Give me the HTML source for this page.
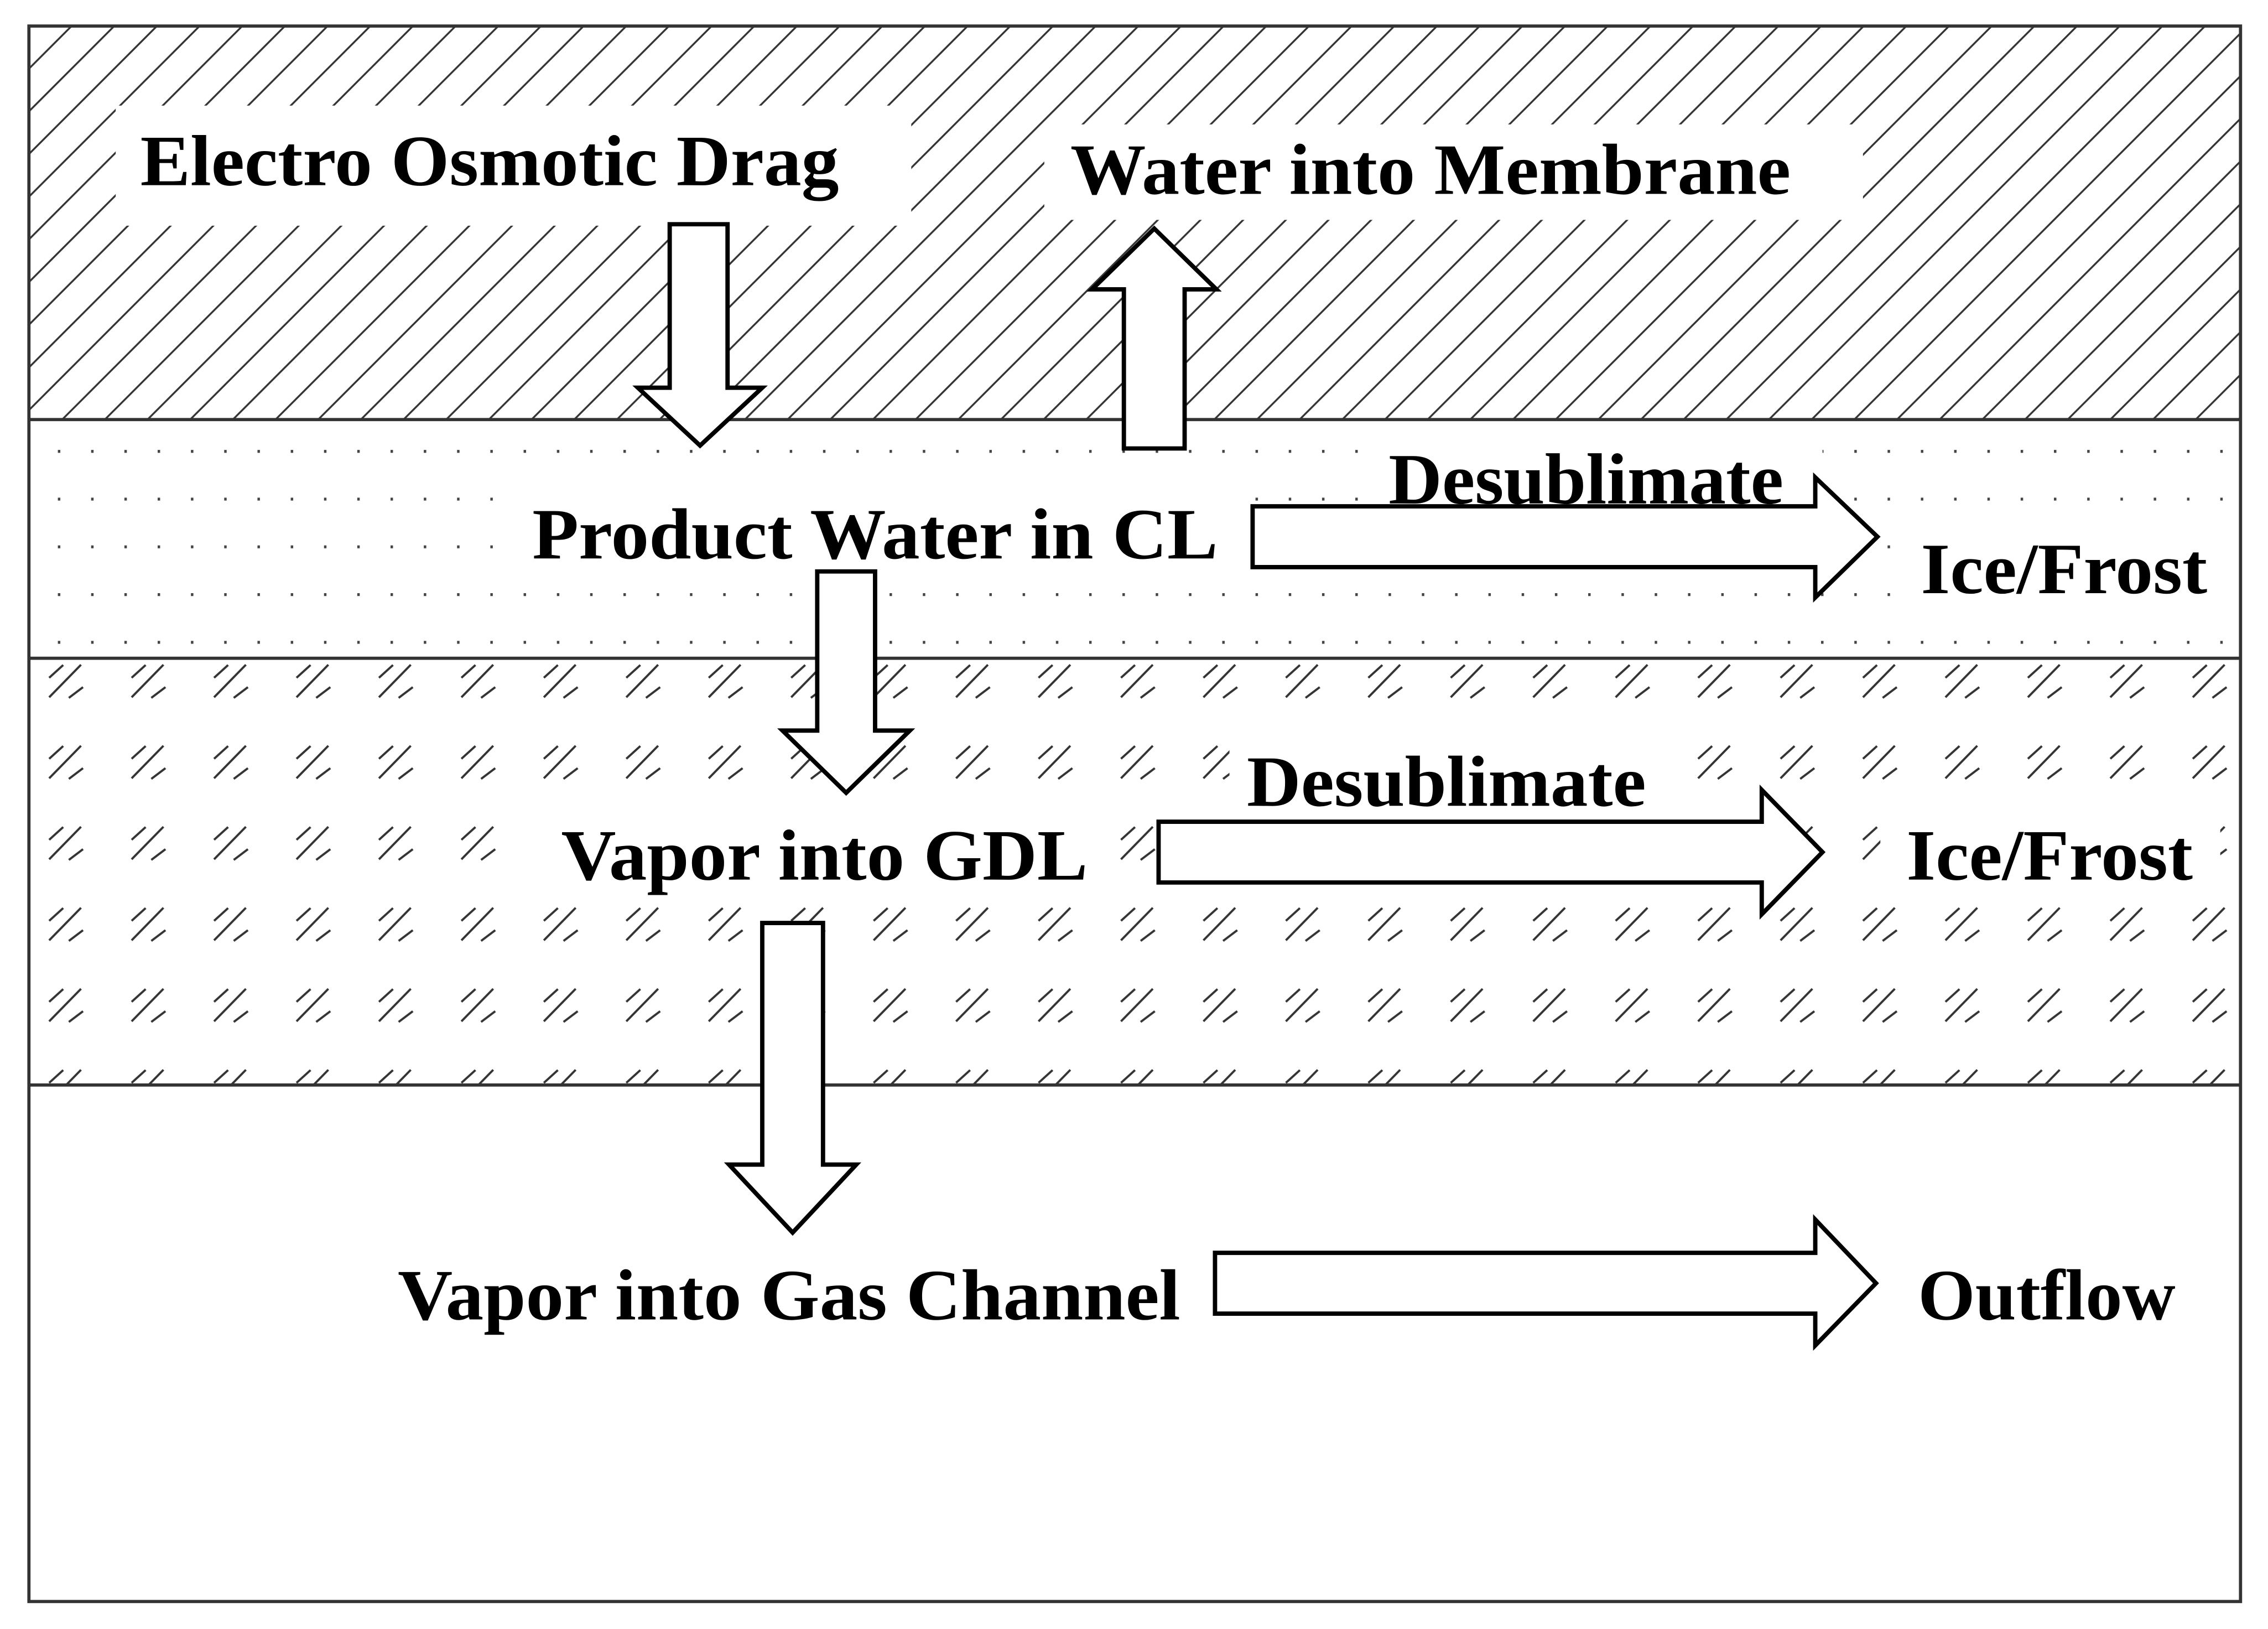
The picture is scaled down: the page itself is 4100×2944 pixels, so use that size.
<!DOCTYPE html>
<html>
<head>
<meta charset="utf-8">
<style>
html,body{margin:0;padding:0;background:#fff;}
svg{display:block;}
text{font-family:"Liberation Serif","DejaVu Serif",serif;font-weight:bold;fill:#000;}
</style>
</head>
<body>
<svg width="4100" height="2944" viewBox="0 0 1568 1126" preserveAspectRatio="none" xmlns="http://www.w3.org/2000/svg">
<defs>
  <pattern id="hatch" patternUnits="userSpaceOnUse" x="20" y="18" width="29.5" height="29.5">
    <line x1="0" y1="29.5" x2="29.5" y2="0" stroke="#333" stroke-width="1.3"/>
    <line x1="-2" y1="2" x2="2" y2="-2" stroke="#333" stroke-width="1.3"/>
    <line x1="27.5" y1="31.5" x2="31.5" y2="27.5" stroke="#333" stroke-width="1.3"/>
  </pattern>
  <pattern id="dots" patternUnits="userSpaceOnUse" x="40" y="311" width="23" height="33">
    <rect x="0" y="0" width="1.7" height="2" fill="#444"/>
  </pattern>
  <pattern id="gdl" patternUnits="userSpaceOnUse" x="33" y="459" width="57" height="56">
    <g stroke="#333" stroke-width="1.5" fill="none">
      <line x1="1" y1="23" x2="23" y2="0.5"/>
      <line x1="1" y1="9.5" x2="10.7" y2="0.7"/>
      <line x1="14.6" y1="23.4" x2="24.4" y2="16"/>
    </g>
  </pattern>
</defs>
<rect x="0" y="0" width="1568" height="1126" fill="#fff"/>

<rect x="20" y="18" width="1529" height="272" fill="url(#hatch)"/>
<rect x="80" y="73" width="550" height="83" fill="#fff"/>
<rect x="722" y="86" width="566" height="66" fill="#fff"/>

<rect x="20" y="290" width="1529" height="165" fill="url(#dots)"/>
<rect x="355" y="335" width="495" height="70" fill="#fff"/>
<rect x="940" y="305" width="320" height="50" fill="#fff"/>
<rect x="1310" y="360" width="230" height="80" fill="#fff"/>

<rect x="20" y="455" width="1529" height="295" fill="url(#gdl)"/>
<rect x="375" y="560" width="390" height="65" fill="#fff"/>
<rect x="850" y="512" width="300" height="52" fill="#fff"/>
<rect x="1300" y="562" width="235" height="62" fill="#fff"/>

<g stroke="#333" stroke-width="2.2" fill="none">
  <line x1="20" y1="290" x2="1549" y2="290"/>
  <line x1="20" y1="455" x2="1549" y2="455"/>
  <line x1="20" y1="750" x2="1549" y2="750"/>
  <rect x="20" y="18" width="1529" height="1089"/>
</g>

<g fill="#fff" stroke="#000" stroke-width="3" stroke-linejoin="miter">
  <polygon points="463,155 503,155 503,268 527,268 484,308 441,268 463,268"/>
  <polygon points="777,310 819,310 819,200 841,200 798,158 755,200 777,200"/>
  <polygon points="565,395 605,395 605,505 629,505 585,548 541,505 565,505"/>
  <polygon points="527,638 569,638 569,805 592,805 548,852 504,805 527,805"/>
  <polygon points="866,350 1255,350 1255,330 1298,371 1255,413 1255,392 866,392"/>
  <polygon points="801,568 1218,568 1218,546 1260,589 1218,632 1218,610 801,610"/>
  <polygon points="840,866 1255,866 1255,843 1297,887 1255,930 1255,908 840,908"/>
</g>

<g font-size="50">
  <text x="97" y="128" textLength="483" lengthAdjust="spacingAndGlyphs">Electro Osmotic Drag</text>
  <text x="740" y="134" textLength="498" lengthAdjust="spacingAndGlyphs">Water into Membrane</text>
  <text x="368" y="386" textLength="474" lengthAdjust="spacingAndGlyphs">Product Water in CL</text>
  <text x="960" y="348" textLength="273" lengthAdjust="spacingAndGlyphs">Desublimate</text>
  <text x="1328" y="410" textLength="198" lengthAdjust="spacingAndGlyphs">Ice/Frost</text>
  <text x="862" y="557" textLength="276" lengthAdjust="spacingAndGlyphs">Desublimate</text>
  <text x="388" y="608" textLength="364" lengthAdjust="spacingAndGlyphs">Vapor into GDL</text>
  <text x="1318" y="608" textLength="198" lengthAdjust="spacingAndGlyphs">Ice/Frost</text>
  <text x="275" y="912" textLength="541" lengthAdjust="spacingAndGlyphs">Vapor into Gas Channel</text>
  <text x="1326" y="912" textLength="178" lengthAdjust="spacingAndGlyphs">Outflow</text>
</g>
</svg>
</body>
</html>
